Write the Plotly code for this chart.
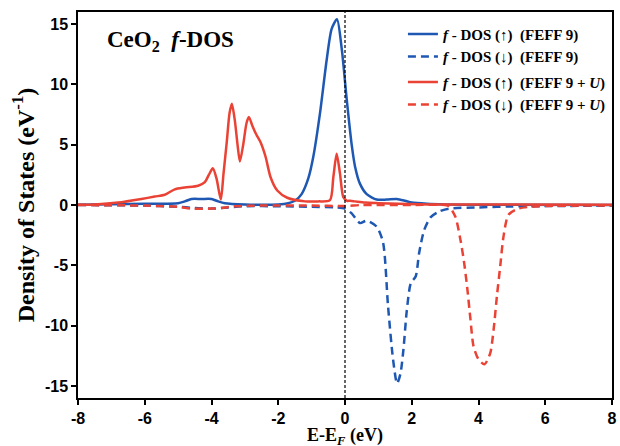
import plotly.graph_objects as go

# FEFF 9, spin up
x_up_feff = [-8, -6, -5, -4.8, -4.6, -4.3, -4.0, -3.8, -3.6, -3, -2, -1.7, -1.5, -1.3, -1.1, -0.95, -0.75,
             -0.55, -0.4, -0.24, -0.1, 0.05, 0.2, 0.3, 0.45, 0.65, 0.95, 1.25, 1.55, 1.8, 2.0, 2.45, 3, 4, 8]
y_up_feff = [0.02, 0.1, 0.15, 0.3, 0.5, 0.5, 0.5, 0.3, 0.15, 0.05, 0.05, 0.15, 0.35, 0.9, 2.2, 4.0, 7.6,
             12.0, 14.6, 15.4, 13.0, 8.8, 5.0, 3.2, 1.75, 0.9, 0.45, 0.45, 0.5, 0.35, 0.2, 0.1, 0.05, 0.02, 0.0]

# FEFF 9, spin down
x_dn_feff = [-8, -6, -5, -4.5, -4, -3.5, -3, -2, -1, -0.3, 0, 0.2, 0.45, 0.65, 0.95, 1.14, 1.29, 1.44, 1.56,
             1.66, 1.75, 1.85, 1.97, 2.12, 2.22, 2.37, 2.57, 2.81, 3.11, 4, 5, 8]
y_dn_feff = [0.0, -0.05, -0.15, -0.25, -0.3, -0.2, -0.1, -0.1, -0.15, -0.2, -0.3, -0.7, -1.5, -1.3, -1.8, -3.1,
             -8.4, -12.8, -14.8, -14.0, -12.0, -8.8, -6.5, -5.9, -4.0, -2.1, -1.0, -0.55, -0.3, -0.2, -0.12, -0.05]

# FEFF 9 + U, spin up
x_up_u = [-8, -7.5, -6.8, -6.1, -5.7, -5.4, -5.1, -4.8, -4.4, -4.2, -4.08, -3.96, -3.85, -3.72, -3.64, -3.54,
          -3.46, -3.39, -3.3, -3.22, -3.15, -3.05, -2.95, -2.88, -2.78, -2.65, -2.53, -2.38, -2.23, -2.03, -1.73,
          -1.2, -0.8, -0.45, -0.35, -0.25, -0.15, -0.05, 0.06, 0.15, 0.3, 0.6, 1.0, 1.6, 2.5, 8]
y_up_u = [0.02, 0.05, 0.2, 0.5, 0.7, 0.85, 1.3, 1.45, 1.6, 1.9, 2.5, 3.05, 2.2, 0.45, 2.6, 5.3,
          7.6, 8.4, 7.0, 5.0, 3.6, 5.0, 6.8, 7.3, 6.6, 5.8, 5.2, 4.0, 2.3, 1.2, 0.6,
          0.3, 0.3, 0.4, 2.3, 4.25, 2.6, 0.65, 0.35, 0.35, 0.3, 0.2, 0.15, 0.1, 0.05, 0.02]

# FEFF 9 + U, spin down
x_dn_u = [-8, -6, -5, -4.6, -4, -3.7, -3.3, -2.5, -1, 0, 0.5, 2, 3, 3.12, 3.31, 3.46, 3.56, 3.66, 3.76, 3.85,
          4.0, 4.18, 4.35, 4.45, 4.55, 4.65, 4.75, 4.9, 5.2, 5.8, 8]
y_dn_u = [0.0, -0.05, -0.15, -0.3, -0.3, -0.25, -0.1, -0.05, -0.05, -0.08, 0.0, 0.0, 0.0, -0.1, -1.0, -2.9,
          -4.6, -6.8, -9.5, -11.7, -12.8, -13.2, -12.3, -10.4, -7.6, -5.1, -2.6, -0.8, -0.3, -0.1, -0.05]

x_ticks = [-8, -6, -4, -2, 0, 2, 4, 6, 8]
y_ticks = [-15, -10, -5, 0, 5, 10, 15]

BLUE = "#1f58b2"
RED = "#ea4335"
DASH = "8px,5px"

fig = go.Figure()
fig.add_trace(go.Scatter(x=x_up_feff, y=y_up_feff, mode="lines", line=dict(color=BLUE, width=2.5, shape="spline", smoothing=0.7),
                         name="<b><i>f</i> - DOS (\u2191)  (FEFF 9)</b>", legendgroup="a"))
fig.add_trace(go.Scatter(x=x_dn_feff, y=y_dn_feff, mode="lines", line=dict(color=BLUE, width=2.5, dash=DASH, shape="spline", smoothing=0.7),
                         name="<b><i>f</i> - DOS (\u2193)  (FEFF 9)</b>", legendgroup="a"))
fig.add_trace(go.Scatter(x=x_up_u, y=y_up_u, mode="lines", line=dict(color=RED, width=2.5, shape="spline", smoothing=0.7),
                         name="<b><i>f</i> - DOS (\u2191)  (FEFF 9 + <i>U</i>)</b>", legendgroup="b"))
fig.add_trace(go.Scatter(x=x_dn_u, y=y_dn_u, mode="lines", line=dict(color=RED, width=2.5, dash=DASH, shape="spline", smoothing=0.7),
                         name="<b><i>f</i> - DOS (\u2193)  (FEFF 9 + <i>U</i>)</b>", legendgroup="b"))

fig.add_shape(type="line", x0=0, x1=0, y0=0, y1=1, xref="x", yref="paper",
              line=dict(color="black", width=1.2, dash="3px,2px"))

fig.add_annotation(x=-7.2, y=13.6, xref="x", yref="y", xanchor="left", yanchor="middle", showarrow=False,
                   text="<b>CeO<sub>2</sub>  <i>f</i>-DOS</b>",
                   font=dict(family="Liberation Serif", size=23, color="black"))

# x-axis title as annotation to keep it below tick labels
fig.add_annotation(x=0.5, y=0, xref="paper", yref="paper", xanchor="center", yanchor="top", yshift=-25,
                   showarrow=False, text="<b>E-E<sub><i>F</i></sub> (eV)</b>",
                   font=dict(family="Liberation Serif", size=18, color="black"))

axis_common = dict(showline=True, linecolor="black", linewidth=1.5, mirror=True, ticks="outside",
                   ticklen=5, tickwidth=1.5, tickcolor="black", showgrid=False, zeroline=False,
                   automargin=False,
                   tickfont=dict(family="Liberation Sans", size=16, color="black", weight="bold"))

fig.update_layout(
    width=620, height=446,
    margin=dict(l=78, r=8, t=12, b=48),
    plot_bgcolor="white", paper_bgcolor="white",
    xaxis=dict(range=[-8, 8], tickvals=x_ticks, ticktext=[str(v) for v in x_ticks], **axis_common),
    yaxis=dict(range=[-16, 16], tickvals=y_ticks, ticktext=[str(v) for v in y_ticks],
               title=dict(text="<b>Density of States (eV<sup>-1</sup>)</b>", standoff=4,
                          font=dict(family="Liberation Serif", size=24, color="black")),
               **axis_common),
    legend=dict(x=0.998, y=0.985, xanchor="right", yanchor="top", bgcolor="rgba(0,0,0,0)",
                traceorder="grouped", tracegroupgap=3, itemwidth=30,
                font=dict(family="Liberation Serif", size=15, color="black")),
    showlegend=True,
)

fig.write_html("out.html")
